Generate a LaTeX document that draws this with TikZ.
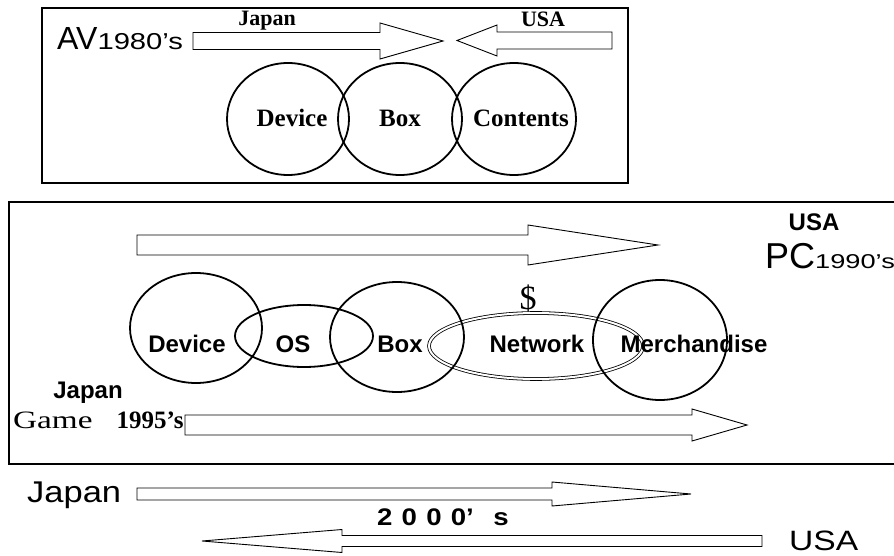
\documentclass[tikz,border=0pt]{standalone}
\usepackage{fontspec}
\setmainfont{Liberation Serif}
\setsansfont{Liberation Sans}
\usetikzlibrary{shapes.geometric}

\begin{document}
\begin{tikzpicture}[x=1pt, y=-1pt,
  frame/.style={draw, line width=1.3pt},
  ring/.style={ellipse, draw, line width=1.8pt, inner sep=0pt},
  blk/.style={draw, line width=0.9pt, line join=miter},
  serlbl/.style={inner sep=0pt, font=\fontsize{25}{25}\selectfont\bfseries},
  sanlbl/.style={inner sep=0pt, font=\fontsize{24}{24}\selectfont\sffamily\bfseries}]
\useasboundingbox (0,0) rectangle (894,556);

% Top panel: AV 1980's
\draw[frame] (42,8) rectangle (628,183);
\node[anchor=base west, inner sep=0pt] (av) at (57,50) {\sffamily\fontsize{32}{32}\selectfont AV\fontsize{23}{23}\selectfont\scalebox{1.27}[1]{1980's}};
\node[serlbl, anchor=base, font=\fontsize{22}{22}\selectfont\bfseries] (jpav) at (267,26) {Japan};
\node[serlbl, anchor=base, font=\fontsize{22}{22}\selectfont\bfseries] (usav) at (543,27) {USA};
\draw[blk] (193,32.5) -- (380,32.5) -- (380,23) -- (443,41) -- (380,59) -- (380,49.5) -- (193,49.5) -- cycle;
\draw[blk] (612,32) -- (497,32) -- (497,25) -- (457,40.5) -- (497,56) -- (497,49) -- (612,49) -- cycle;
\node[ring, minimum width=122pt, minimum height=112pt] (dev1) at (288,119) {};
\node[ring, minimum width=124pt, minimum height=112pt] (box1) at (400,119) {};
\node[ring, minimum width=124pt, minimum height=112pt] (cont1) at (514,119) {};
\node[serlbl, anchor=base] (dev1t) at (292,127) {Device};
\node[serlbl, anchor=base] (box1t) at (400,127) {Box};
\node[serlbl, anchor=base] (cont1t) at (521,127) {Contents};

% Middle panel: PC 1990's and Game 1995's
\draw[frame] (9,202) rectangle (897,464);
\node[sanlbl, anchor=base] (uspc) at (814,230) {USA};
\node[anchor=base west, inner sep=0pt] (pc) at (765,268) {\sffamily\fontsize{36}{36}\selectfont PC\fontsize{20}{20}\selectfont\scalebox{1.36}[1]{1990's}};
\draw[blk] (137,235) -- (528,235) -- (528,225) -- (658,245) -- (528,265) -- (528,255) -- (137,255) -- cycle;
\node[ellipse, draw, double, double distance=2pt, line width=0.8pt, inner sep=0pt, minimum width=214pt, minimum height=66pt] (net) at (536,346) {};
\node[ring, minimum width=132pt, minimum height=110pt] (dev2) at (196,328) {};
\node[ring, minimum width=138pt, minimum height=62pt] (os) at (304,336) {};
\node[ring, minimum width=134pt, minimum height=110pt] (box2) at (397,337) {};
\node[ring, minimum width=134pt, minimum height=120pt] (merch) at (660,340) {};
\node[serlbl, anchor=base, font=\fontsize{34}{34}\selectfont] (cash) at (528,309) {\$};
\node[sanlbl, anchor=base] (dev2t) at (187,352) {Device};
\node[sanlbl, anchor=base] (ost) at (293,352) {OS};
\node[sanlbl, anchor=base] (box2t) at (400,352) {Box};
\node[sanlbl, anchor=base] (nett) at (537,352) {Network};
\node[sanlbl, anchor=base] (mercht) at (694,352) {Merchandise};
\node[sanlbl, anchor=base] (jpgame) at (88,398) {Japan};
\node[anchor=base west, inner sep=0pt] (game) at (13,428) {\fontsize{25}{25}\selectfont\scalebox{1.33}[1]{Game}\hspace{24pt}\bfseries 1995's};
\draw[blk] (185,415) -- (692,415) -- (692,409) -- (747,425) -- (692,441) -- (692,435) -- (185,435) -- cycle;

% Bottom: 2000's
\node[anchor=base west, inner sep=0pt] (jp2k) at (27,502) {\sffamily\fontsize{30}{30}\selectfont\scalebox{1.15}[1]{Japan}};
\draw[blk] (137,488) -- (552,488) -- (552,482) -- (691,494) -- (552,506) -- (552,500) -- (137,500) -- cycle;
\node[anchor=base west, inner sep=0pt] (y2k) at (377,525) {\sffamily\bfseries\fontsize{24}{24}\selectfont\scalebox{1.15}[1]{2\hspace{8pt}0\hspace{8pt}0\hspace{8pt}0'\hspace{17pt}s}};
\draw[blk] (762,535.5) -- (342,535.5) -- (342,529.5) -- (202,541) -- (342,552.5) -- (342,546.5) -- (762,546.5) -- cycle;
\node[anchor=base west, inner sep=0pt] (us2k) at (789,550) {\sffamily\fontsize{28}{28}\selectfont\scalebox{1.2}[1]{USA}};
\end{tikzpicture}
\end{document}
